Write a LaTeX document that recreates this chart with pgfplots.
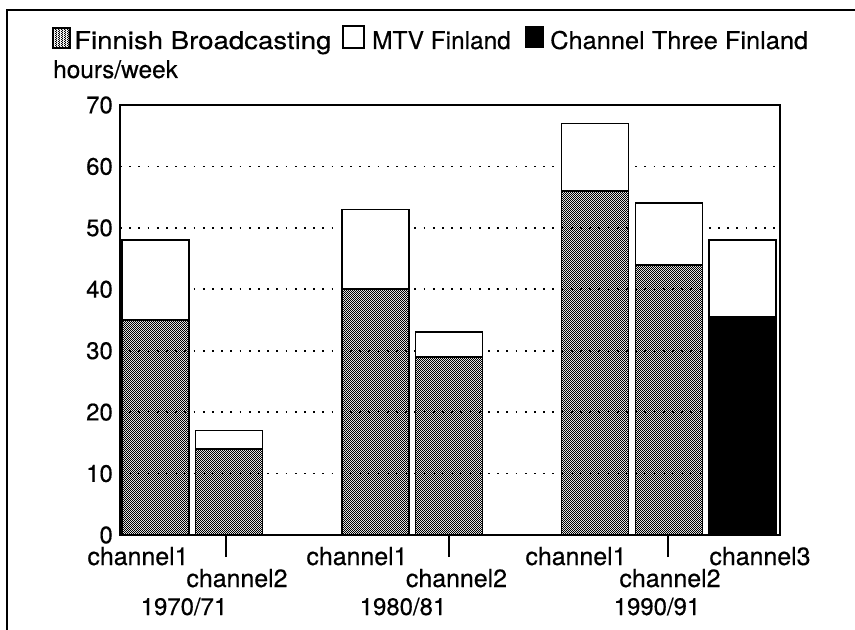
\documentclass[border=0pt]{standalone}
\usepackage{pgfplots}
\pgfplotsset{compat=1.18}
\usepackage{pgfplotstable}
\usetikzlibrary{patterns}
\usepackage{fontspec}
\setmainfont[FakeBold=0.4]{TeX Gyre Heros}
\newfontfamily\fbfont[FakeStretch=1.13,FakeBold=0.4]{TeX Gyre Heros}
\newfontfamily\ctfont[FakeStretch=1.04,FakeBold=0.4]{TeX Gyre Heros}

\pgfdeclarepatternformonly{dither}{\pgfpointorigin}{\pgfpoint{2.4bp}{2.4bp}}{\pgfpoint{2.4bp}{2.4bp}}{%
  \pgfpathrectangle{\pgfpoint{0bp}{0bp}}{\pgfpoint{1.2bp}{1.2bp}}%
  \pgfpathrectangle{\pgfpoint{1.2bp}{1.2bp}}{\pgfpoint{1.2bp}{1.2bp}}%
  \pgfusepath{fill}%
}

\tikzset{
  chlab/.style={font=\fontsize{25}{25}\selectfont, anchor=base, inner sep=0pt},
  yrlab/.style={font=\fontsize{24}{24}\selectfont, anchor=base, inner sep=0pt},
  leglab/.style={font=\fontsize{24.5}{24.5}\selectfont, inner sep=0pt},
}

% x in axis units (bp from left axis edge)
\pgfplotstableread{
x      fb    c3    mtv
35.5   35    0     13
109    14    0     3
255.5  40    0     13
329    29    0     4
475    56    0     11
549    44    0     10
622.5  0     35.5  12.5
}\data

\begin{document}
\begin{tikzpicture}
\useasboundingbox (-120bp,-95bp) rectangle (735bp,535bp);
% outer frame
\draw[line width=2.4bp] (-113bp,-95bp) -- (-113bp,525bp) -- (735bp,525bp);

\begin{axis}[
  at={(0,0)}, anchor=south west,
  scale only axis,
  width=660bp, height=430bp,
  xmin=0, xmax=660, ymin=0, ymax=70,
  ybar stacked, bar width=67,
  axis line style={line width=1.8bp},
  ytick={0,10,...,70},
  ymajorgrids,
  grid style={line width=1.8bp, dash pattern=on 1.8bp off 7.4bp, black},
  ytick style={draw=none},
  ytick align=inside,
  xtick={106,329,548},
  xticklabels={},
  xtick style={line width=1.4bp, black},
  major tick length=22bp,
  xtick align=outside,
  tick pos=left,
  /pgf/number format/assume math mode=true,
  yticklabel style={font=\fontsize{24}{24}\selectfont, inner sep=0pt, xshift=-7bp},
  clip=false,
]
\addplot[draw=black, line width=1.6bp, pattern=dither] table[x=x, y=fb] {\data};
\addplot[draw=black, line width=1.6bp, fill=black] table[x=x, y=c3] {\data};
\addplot[draw=black, line width=1.6bp, fill=white] table[x=x, y=mtv] {\data};

\node[chlab, yshift=-30bp] at (axis cs:18,0) {channel1};
\node[chlab, yshift=-52bp] at (axis cs:117,0) {channel2};
\node[chlab, yshift=-30bp] at (axis cs:237,0) {channel1};
\node[chlab, yshift=-52bp] at (axis cs:336.5,0) {channel2};
\node[chlab, yshift=-30bp] at (axis cs:456,0) {channel1};
\node[chlab, yshift=-52bp] at (axis cs:550,0) {channel2};
\node[chlab, yshift=-30bp] at (axis cs:640,0) {channel3};
\node[yrlab, yshift=-80bp] at (axis cs:64,0) {1970/71};
\node[yrlab, yshift=-80bp] at (axis cs:283,0) {1980/81};
\node[yrlab, yshift=-80bp] at (axis cs:537,0) {1990/91};
\end{axis}

% legend
\draw[line width=1.2bp, pattern=dither] (-67bp,487bp) rectangle (-50bp,507bp);
\node[leglab, font=\fbfont\fontsize{24.5}{24.5}\selectfont, anchor=base west] at (-46bp,486bp) {Finnish Broadcasting};
\draw[line width=1.6bp, fill=white] (223bp,487bp) rectangle (244bp,509bp);
\node[leglab, anchor=base west] at (252bp,486bp) {MTV Finland};
\fill[black] (405bp,487bp) rectangle (424bp,509bp);
\node[leglab, font=\ctfont\fontsize{24.5}{24.5}\selectfont, anchor=base west] at (430bp,486bp) {Channel Three Finland};
% y unit label
\node[leglab, anchor=base west] at (-67bp,457bp) {hours/week};
\end{tikzpicture}
\end{document}
